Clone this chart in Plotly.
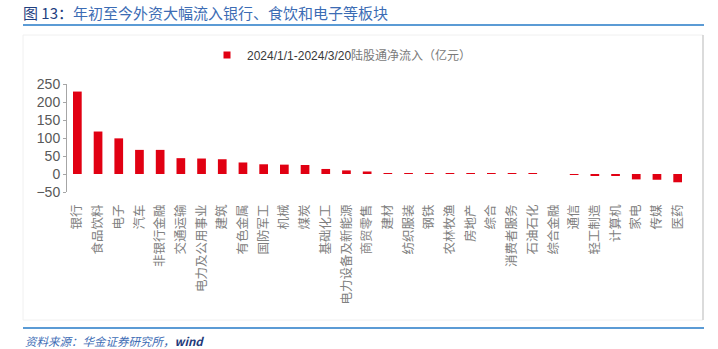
import plotly.graph_objects as go

# 陆股通 2024/1/1-2024/3/20 各行业净流入（亿元）
categories = ["银行", "食品饮料", "电子", "汽车", "非银行金融", "交通运输", "电力及公用事业",
              "建筑", "有色金属", "国防军工", "机械", "煤炭", "基础化工", "电力设备及新能源",
              "商贸零售", "建材", "纺织服装", "钢铁", "农林牧渔", "房地产", "综合", "消费者服务",
              "石油石化", "综合金融", "通信", "轻工制造", "计算机", "家电", "传媒", "医药"]
net_inflow = [229, 118, 99, 67, 67, 44, 43, 41, 32, 27, 26, 25, 14, 10,
              7, 2, 2, 2, 2, 2, 1, 0.5, 0.5, 0, -2, -4, -4, -15, -16, -23]
y_ticks = [-50, 0, 50, 100, 150, 200, 250]

series_name = "2024/1/1-2024/3/20陆股通净流入（亿元）"
title_text = "图 13：年初至今外资大幅流入银行、食饮和电子等板块"
source_text = "资料来源：华金证券研究所，wind"

RED = "#E10012"
AXIS = "#A6A6A6"
BLUE_LINE = "#5B9BD5"

W, H = 718, 349
ML, MR, MT, MB = 67, 30, 84, 157
PW, PH = W - ML - MR, H - MT - MB


def xp(px):
    return (px - ML) / PW


def yp(py):
    return (H - MB - py) / PH


y_min, y_max = y_ticks[0], y_ticks[-1]
n = len(categories)

fig = go.Figure()
fig.add_trace(go.Bar(
    x=categories, y=net_inflow, marker=dict(color=RED, line=dict(width=0)),
    width=0.42, showlegend=False, hoverinfo="x+y",
))
# legend entry with a small square swatch
date_part, label_part = series_name[:18], series_name[18:]
fig.add_trace(go.Scatter(
    x=[None], y=[None], mode="markers",
    marker=dict(symbol="square", size=7, color=RED),
    name=(f"<span style='color:#3A3A3A'>{date_part}</span>"
          f"<span style='font-family:Noto Sans CJK SC;color:#7A7A7A'>{label_part}</span>"),
    showlegend=True,
))

fig.update_layout(
    width=W, height=H,
    margin=dict(l=ML, r=MR, t=MT, b=MB, pad=0),
    paper_bgcolor="white", plot_bgcolor="white",
    font=dict(family="Arial, Liberation Sans, sans-serif", color="#595959"),
    title=dict(
        text=("<span style='color:#1F3F7F'>图 13：</span>" + title_text[5:]),
        x=23 / W, y=1 - 14 / H, xref="container", yref="container",
        xanchor="left", yanchor="middle",
        font=dict(family="Noto Sans CJK SC", size=15, color="#3C6CB4"),
    ),
    xaxis=dict(
        type="category", categoryorder="array", categoryarray=categories,
        range=[-0.5, n - 0.5], showline=False, ticks="", showgrid=False,
        tickangle=-90, tickfont=dict(family="Noto Sans CJK SC", size=12.5, color="#808080"),
        ticklabelstandoff=9,
    ),
    xaxis2=dict(
        overlaying="x", anchor="free", position=(0 - y_min) / (y_max - y_min),
        type="linear", range=[-0.5, n - 0.5], tick0=-0.5, dtick=1,
        showline=True, linecolor=AXIS, linewidth=1,
        ticks="outside", ticklen=4, tickcolor=AXIS, tickwidth=1,
        showticklabels=False, showgrid=False, zeroline=False,
    ),
    yaxis=dict(
        range=[y_min, y_max], tickvals=y_ticks, showgrid=False, zeroline=False,
        showline=True, linecolor=AXIS, linewidth=1,
        ticks="outside", ticklen=3, tickcolor=AXIS,
        tickfont=dict(family="Arial, Liberation Sans", size=14, color="#595959"),
    ),
    legend=dict(
        orientation="h", x=xp(207), y=yp(55), xanchor="left", yanchor="middle",
        font=dict(family="Arial, Liberation Sans", size=12, color="#3A3A3A"),
        bgcolor="rgba(0,0,0,0)",
    ),
    showlegend=True,
    shapes=[
        # chart frame
        dict(type="rect", xref="paper", yref="paper", x0=xp(23), x1=xp(703), y0=yp(320), y1=yp(35),
             line=dict(color="#F0F0F0", width=1), layer="below"),
        dict(type="line", xref="paper", yref="paper", x0=xp(703), x1=xp(703), y0=yp(320), y1=yp(35),
             line=dict(color="#BFBFBF", width=1)),
        # header and footer rules
        dict(type="line", xref="paper", yref="paper", x0=xp(23), x1=xp(704), y0=yp(25), y1=yp(25),
             line=dict(color=BLUE_LINE, width=2)),
        dict(type="line", xref="paper", yref="paper", x0=xp(23), x1=xp(704), y0=yp(328), y1=yp(328),
             line=dict(color=BLUE_LINE, width=2)),
    ],
    annotations=[
        dict(text=(f"<i>{source_text[:-4]}</i>"
                   f"<span style='color:#1F3A7A'><i><b>{source_text[-4:]}</b></i></span>"),
             xref="paper", yref="paper", x=xp(23), y=yp(341), xanchor="left", yanchor="middle",
             showarrow=False, font=dict(family="Noto Sans CJK SC", size=11.5, color="#3E6DB5")),
    ],
)

fig.write_html("out.html")
